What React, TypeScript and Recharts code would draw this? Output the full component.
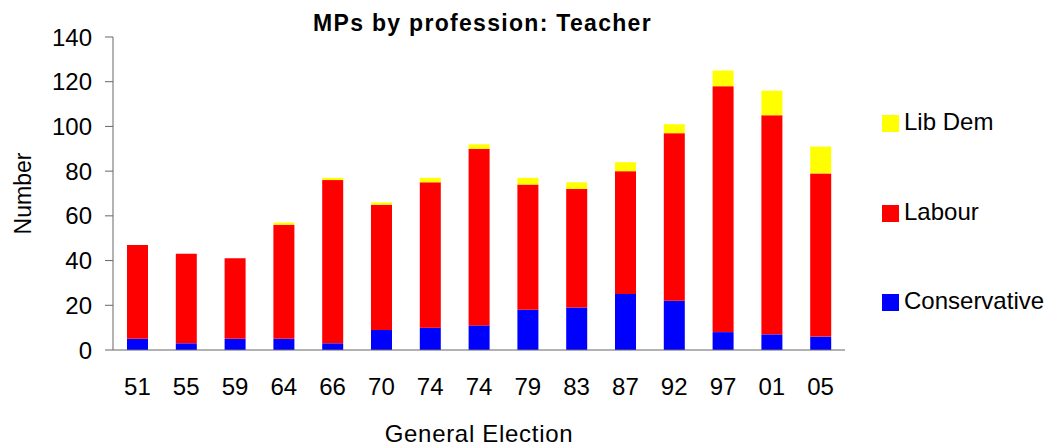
import { BarChart, Bar, XAxis, YAxis } from "recharts";

const elections = ["51", "55", "59", "64", "66", "70", "74", "74", "79", "83", "87", "92", "97", "01", "05"];
const conservative = [5, 3, 5, 5, 3, 9, 10, 11, 18, 19, 25, 22, 8, 7, 6];
const labour = [42, 40, 36, 51, 73, 56, 65, 79, 56, 53, 55, 75, 110, 98, 73];
const libDem = [0, 0, 0, 1, 1, 1, 2, 2, 3, 3, 4, 4, 7, 11, 12];
const yTicks = [0, 20, 40, 60, 80, 100, 120, 140];

const FONT = '"Liberation Sans", Arial, sans-serif';

const series = [
  { key: "Conservative", values: conservative, color: "#0000ff" },
  { key: "Labour", values: labour, color: "#ff0000" },
  { key: "Lib Dem", values: libDem, color: "#ffff00" },
];

const data = elections.map((name, i) => {
  const row: Record<string, string | number> = { name };
  series.forEach((s) => (row[s.key] = s.values[i]));
  return row;
});

// legend reads top to bottom in reverse stacking order
const legendItems = [...series].reverse();
const legendTops = [115, 205, 294];

export default function App() {
  const tick = { fontSize: 24, fill: "#000", fontFamily: FONT };
  return (
    <div style={{ position: "absolute", left: 0, top: 0, width: 1053, height: 448, background: "#fff", fontFamily: FONT }}>
      <div
        style={{
          position: "absolute", left: 0, top: 12, width: 965, textAlign: "center",
          fontSize: 23, lineHeight: "23px", fontWeight: "bold", letterSpacing: 1.3,
        }}
      >
        MPs by profession: Teacher
      </div>

      <BarChart width={1053} height={448} data={data} margin={{ top: 37, right: 208, bottom: 38, left: 0 }}>
        <XAxis
          dataKey="name"
          height={60}
          tickLine={false}
          tickSize={0}
          tickMargin={28}
          tick={tick}
          stroke="#666"
          interval={0}
          label={{
            value: "General Election", position: "bottom", offset: 15,
            style: { fontSize: 24, fill: "#000", fontFamily: FONT, letterSpacing: 0.7 },
          }}
        />
        <YAxis
          width={113}
          domain={[0, 140]}
          ticks={yTicks}
          tickSize={8}
          tickMargin={13}
          tick={tick}
          stroke="#666"
          label={{
            value: "Number", angle: -90, position: "insideLeft", offset: 23,
            style: { fontSize: 23, fill: "#000", fontFamily: FONT, textAnchor: "middle" },
          }}
        />
        {series.map((s) => (
          <Bar key={s.key} dataKey={s.key} stackId="a" fill={s.color} barSize={21} isAnimationActive={false} />
        ))}
      </BarChart>

      {legendItems.map((s, i) => (
        <div
          key={s.key}
          style={{ position: "absolute", left: 882, top: legendTops[i], height: 17, display: "flex", alignItems: "center" }}
        >
          <div style={{ width: 17, height: 17, background: s.color }} />
          <span style={{ marginLeft: 5, fontSize: 24, lineHeight: "17px", position: "relative", top: -2 }}>{s.key}</span>
        </div>
      ))}
    </div>
  );
}
